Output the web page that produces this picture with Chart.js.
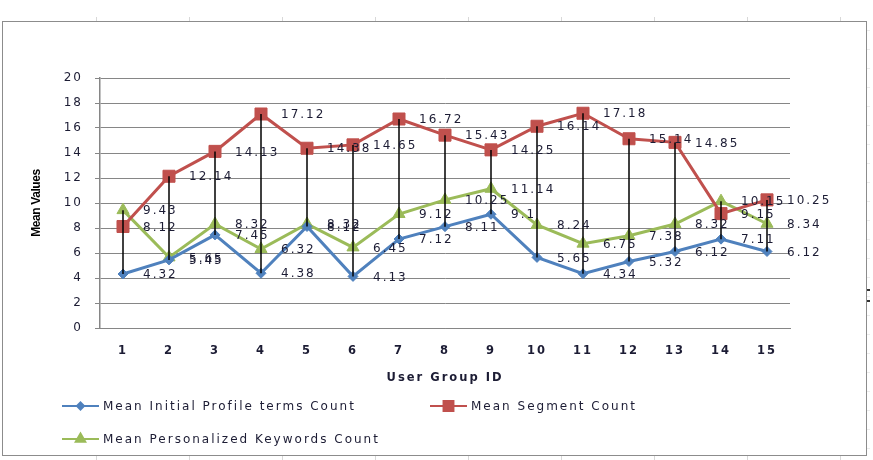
<!DOCTYPE html>
<html>
<head>
<meta charset="utf-8">
<script src="https://cdn.jsdelivr.net/npm/chart.js@4/dist/chart.umd.min.js"></script>
<style>
  html, body { margin: 0; padding: 0; background: #fff; }
  #wrap { position: relative; width: 873px; height: 460px; overflow: hidden; }
  #frame { position: absolute; left: 2px; top: 21px; width: 863px; height: 433px; border: 1px solid #8c8c8c; pointer-events: none; }
  .mark { position: absolute; background: #d8d8d8; }
</style>
</head>
<body>
<div id="wrap">
  <canvas id="chart" width="873" height="460"></canvas>
  <div id="frame"></div>
</div>
<script>
// Categories and series
const groups = ['1','2','3','4','5','6','7','8','9','10','11','12','13','14','15'];
const initialProfile = [4.32, 5.45, 7.45, 4.38, 8.12, 4.13, 7.12, 8.11, 9.1, 5.65, 4.34, 5.32, 6.12, 7.11, 6.12];
const segmentCount = [8.12, 12.14, 14.13, 17.12, 14.38, 14.65, 16.72, 15.43, 14.25, 16.14, 17.18, 15.14, 14.85, 9.15, 10.25];
const personalizedKeywords = [9.43, 5.65, 8.32, 6.32, 8.32, 6.45, 9.12, 10.25, 11.14, 8.24, 6.75, 7.38, 8.32, 10.15, 8.34];
const seriesNames = ['Mean Initial Profile terms Count', 'Mean Segment Count', 'Mean Personalized Keywords Count'];
const yMin = 0, yMax = 20, yStep = 2;
const yTitle = 'Mean Values';

const BLUE = '#4F81BD', RED = '#C0504D', GREEN = '#9BBB59';
const TEXT = '#1c1c34';
const GRID = '#868686';

// faint sheet cell marks round the chart frame
const wrap = document.getElementById('wrap');
function mark(l, t, w, h, c) {
  const d = document.createElement('div');
  d.className = 'mark';
  d.style.cssText = `left:${l}px;top:${t}px;width:${w}px;height:${h}px;` + (c ? `background:${c};` : '');
  wrap.appendChild(d);
}
for (let x = 96; x < 870; x += 93) { mark(x, 17, 1, 4); mark(x, 456, 1, 4); }
for (let y = 30; y < 450; y += 19) mark(867, y, 3, 1, '#ececec');
mark(867, 289, 3, 2, '#333');
mark(867, 300, 3, 2, '#333');

// letter spacing for the whole canvas (the source text is wide)
const spacing = {
  id: 'spacing',
  beforeDraw(chart) { chart.ctx.letterSpacing = '2px'; }
};

// high-low lines: from the lowest to the highest value of each group
const highLow = {
  id: 'highLow',
  afterDatasetsDraw(chart) {
    const ctx = chart.ctx, xs = chart.scales.x, ys = chart.scales.y;
    const sets = chart.data.datasets.map(d => d.data);
    ctx.save();
    ctx.strokeStyle = '#000';
    ctx.lineWidth = 1.5;
    groups.forEach((g, i) => {
      const vals = sets.map(s => s[i]);
      const x = xs.getPixelForValue(i);
      ctx.beginPath();
      ctx.moveTo(x, ys.getPixelForValue(Math.min(...vals)));
      ctx.lineTo(x, ys.getPixelForValue(Math.max(...vals)));
      ctx.stroke();
    });
    ctx.restore();
  }
};

// value labels right of each point
const valueLabels = {
  id: 'valueLabels',
  afterDatasetsDraw(chart) {
    const ctx = chart.ctx;
    ctx.save();
    ctx.letterSpacing = '2px';
    ctx.font = '12px "DejaVu Sans"';
    ctx.fillStyle = TEXT;
    ctx.textAlign = 'left';
    ctx.textBaseline = 'middle';
    chart.data.datasets.forEach((ds, di) => {
      chart.getDatasetMeta(di).data.forEach((pt, i) => {
        ctx.fillText(String(ds.data[i]), pt.x + 20, pt.y + 1);
      });
    });
    ctx.restore();
  }
};

// y axis title, narrow bold like the source
const yTitlePlugin = {
  id: 'yTitle',
  afterDraw(chart) {
    const ctx = chart.ctx, a = chart.chartArea;
    ctx.save();
    ctx.letterSpacing = '-0.4px';
    ctx.font = 'bold 12px "Liberation Sans"';
    ctx.fillStyle = '#000';
    ctx.textAlign = 'center';
    ctx.textBaseline = 'middle';
    ctx.translate(37, (a.top + a.bottom) / 2);
    ctx.rotate(-Math.PI / 2);
    ctx.fillText(yTitle, 0, 0);
    ctx.restore();
  }
};

// legend in two rows, like the source
const legendRows = {
  id: 'legendRows',
  afterDraw(chart) {
    const ctx = chart.ctx;
    const spots = [[62, 406], [430, 406], [62, 439]];
    ctx.save();
    ctx.letterSpacing = '2px';
    ctx.font = '12px "DejaVu Sans"';
    ctx.textBaseline = 'middle';
    ctx.textAlign = 'left';
    chart.data.datasets.forEach((ds, i) => {
      const [x, y] = spots[i];
      ctx.strokeStyle = ds.borderColor;
      ctx.lineWidth = 2;
      ctx.beginPath();
      ctx.moveTo(x, y);
      ctx.lineTo(x + 37, y);
      ctx.stroke();
      ctx.fillStyle = ds.backgroundColor;
      ctx.strokeStyle = ds.borderColor;
      Chart.helpers.drawPoint(ctx, {pointStyle: ds.pointStyle, radius: ds.pointRadius - 1.5, borderWidth: 1, rotation: 0}, x + 18.5, y);
      ctx.fillStyle = TEXT;
      ctx.fillText(ds.label, x + 41, y + 1);
    });
    ctx.restore();
  }
};

new Chart(document.getElementById('chart').getContext('2d'), {
  type: 'line',
  data: {
    labels: groups,
    datasets: [
      { label: seriesNames[0], data: initialProfile, borderColor: BLUE, backgroundColor: BLUE,
        borderWidth: 3, pointStyle: 'rectRot', pointRadius: 5, pointBorderWidth: 1, tension: 0 },
      { label: seriesNames[1], data: segmentCount, borderColor: RED, backgroundColor: RED,
        borderWidth: 3, pointStyle: 'rect', pointRadius: 8.5, pointBorderWidth: 1, tension: 0 },
      { label: seriesNames[2], data: personalizedKeywords, borderColor: GREEN, backgroundColor: GREEN,
        borderWidth: 3, pointStyle: 'triangle', pointRadius: 7, pointBorderWidth: 1, tension: 0 }
    ]
  },
  options: {
    responsive: false,
    animation: false,
    layout: { padding: { left: 25, top: 78, right: 83, bottom: 70 } },
    plugins: { legend: { display: false }, tooltip: { enabled: false } },
    scales: {
      x: {
        offset: true,
        grid: { display: false, drawTicks: false },
        border: { display: true, color: GRID, width: 1 },
        ticks: { color: TEXT, padding: 16, font: { family: 'DejaVu Sans', size: 11.5, weight: 'bold' } },
        title: { display: true, text: 'User Group ID', color: TEXT, padding: { top: 4, bottom: 5 },
                 font: { family: 'DejaVu Sans', size: 11.5, weight: 'bold' } },
        afterFit(scale) { scale.height = 62; }
      },
      y: {
        min: yMin, max: yMax,
        grid: { color: GRID, lineWidth: 1, drawTicks: true, tickLength: 5, tickColor: GRID },
        border: { display: true, color: GRID, width: 1.5 },
        ticks: { stepSize: yStep, color: TEXT, padding: 12, font: { family: 'DejaVu Sans', size: 12 } },
        afterFit(scale) { scale.width = 75; }
      }
    }
  },
  plugins: [spacing, highLow, valueLabels, yTitlePlugin, legendRows]
});
</script>
</body>
</html>
